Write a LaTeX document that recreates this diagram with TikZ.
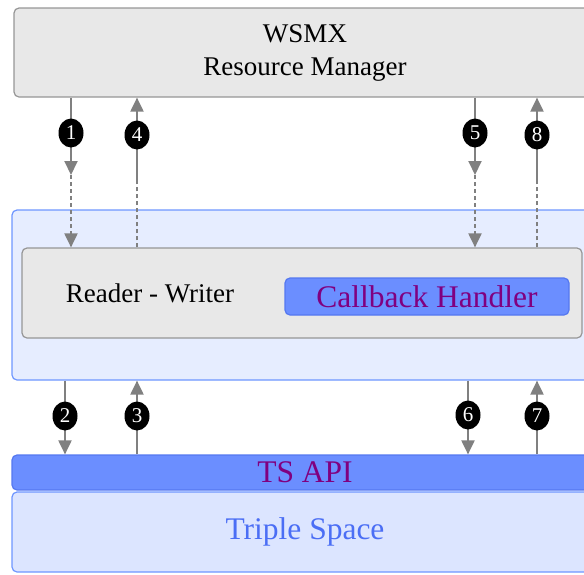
\documentclass[tikz,border=0pt]{standalone}
\usepackage{fontspec}
\setmainfont{Liberation Serif}
\usetikzlibrary{arrows.meta,shapes.geometric}
\definecolor{boxgray}{RGB}{232,232,232}
\definecolor{linegray}{RGB}{150,150,150}
\definecolor{arrowgray}{RGB}{128,128,128}
\definecolor{paleblue}{RGB}{230,237,255}
\definecolor{edgeblue}{RGB}{110,150,255}
\definecolor{apiblue}{RGB}{107,142,255}
\definecolor{apiedge}{RGB}{85,120,240}
\definecolor{spaceblue}{RGB}{220,229,255}
\definecolor{textblue}{RGB}{75,110,245}
\definecolor{textpurple}{RGB}{128,0,128}
\tikzstyle{graybox}=[draw=linegray,fill=boxgray,rounded corners=5pt,line width=1.2pt,inner sep=0pt]
\tikzstyle{bluebox}=[draw=edgeblue,fill=paleblue,rounded corners=5pt,line width=1.2pt,inner sep=0pt]
\tikzstyle{apibox}=[draw=apiedge,fill=apiblue,rounded corners=5pt,line width=1.2pt,inner sep=0pt,text=textpurple,font=\fontsize{31.5}{34}\selectfont]
\tikzstyle{spacebox}=[draw=edgeblue,fill=spaceblue,rounded corners=5pt,line width=1.2pt,inner sep=0pt,text=textblue,font=\fontsize{31.5}{34}\selectfont]
\tikzstyle{badge}=[ellipse,fill=black,text=white,minimum width=25pt,minimum height=29pt,inner sep=0pt,font=\fontsize{21}{21}\selectfont]
\tikzstyle{flow}=[draw=arrowgray,line width=2pt,-{Triangle[length=14pt,width=13pt]}]
\tikzstyle{plain}=[draw=arrowgray,line width=2pt]
\tikzstyle{dashline}=[dash pattern=on 4pt off 3pt]

\begin{document}
\begin{tikzpicture}[x=1pt,y=-1pt]
	\useasboundingbox (0,0) rectangle (584,574);
	\clip (0,0) rectangle (584,574);

	% First we draw the boxes
	\node[graybox,minimum width=582pt,minimum height=89pt,align=center,
		font=\fontsize{27}{33}\selectfont] (wsmx) at (305,52.5) {WSMX\\Resource Manager};
	\node[bluebox,minimum width=586pt,minimum height=170pt] (client) at (305,295) {};
	\node[graybox,minimum width=560pt,minimum height=90pt] (rw) at (302,293) {};
	\node[font=\fontsize{27}{33}\selectfont] (rwtext) at (150,293) {Reader - Writer};
	\node[apibox,minimum width=284pt,minimum height=37pt] (callback) at (427,296.5) {Callback Handler};
	\node[apibox,minimum width=586pt,minimum height=35pt] (tsapi) at (305,472.5) {TS API};
	\node[spacebox,minimum width=586pt,minimum height=80pt] (space) at (305,532) {Triple Space};

	% Then the points where solid lines turn dashed
	\foreach \x/\y/\name in {71/175/m1, 137/180/m4, 475/175/m5, 537/180/m8,
							65/416/m2, 137/416/m3, 468/416/m6, 537/416/m7}
	\coordinate (\name) at (\x,\y);

	% Calls going down
	\foreach \m in {m1,m5} {
		\path[flow] (wsmx.south -| \m) -- (\m);
		\path[flow,dashline] (\m) -- (rw.north -| \m);
	}
	% Answers going up
	\foreach \m in {m4,m8} {
		\path[plain,dashline] (rw.north -| \m) -- (\m);
		\path[flow] (\m) -- (wsmx.south -| \m);
	}
	\foreach \m in {m2,m6}
	\path[flow] (client.south -| \m) -- (tsapi.north -| \m);
	\foreach \m in {m3,m7}
	\path[flow] (tsapi.north -| \m) -- (client.south -| \m);

	% Numbered badges on top of the lines
	\foreach \x/\y/\name in {71/133/1, 137/135/4, 475/133/5, 537/135/8,
							65/416/2, 137/416/3, 468/415/6, 537/416/7}
	\node[badge] (b\name) at (\x,\y) {\name};
\end{tikzpicture}
\end{document}
